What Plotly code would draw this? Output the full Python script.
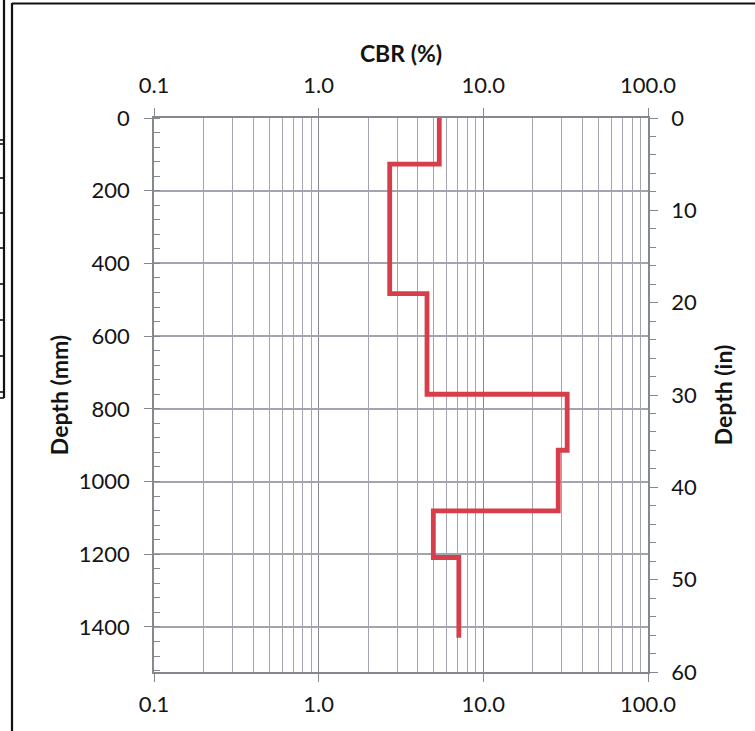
import plotly.graph_objects as go

# Layer boundaries (depth, mm) and the CBR value measured in each layer
layer_top_mm = [0, 127, 483, 760, 914, 1081, 1209]
layer_bottom_mm = [127, 483, 760, 914, 1081, 1209, 1430]
layer_cbr = [5.4, 2.7, 4.55, 32.3, 28.5, 4.97, 7.1]

# Axis tick labels
cbr_ticks = [0.1, 1, 10, 100]
cbr_ticktext = ["0.1", "1.0", "10.0", "100.0"]
depth_mm_ticks = [0, 200, 400, 600, 800, 1000, 1200, 1400]
depth_in_ticks = [0, 10, 20, 30, 40, 50, 60]

MM_PER_IN = 25.4
DEPTH_MAX_IN = 60

# Build the step profile: each layer is a vertical segment, joined by horizontal jumps
prof_x, prof_y = [], []
for top, bot, cbr in zip(layer_top_mm, layer_bottom_mm, layer_cbr):
    prof_x += [cbr, cbr]
    prof_y += [top, bot]

minor_log = [m * 10 ** e for e in (-1, 0, 1) for m in range(2, 10)]

FONT = "Lato, 'Open Sans', sans-serif"
GRID = "#a2a5ae"
GRID_MAJOR = "#85888f"
AXLINE = "#85888f"
TXT = "#141414"

fig = go.Figure()
fig.add_trace(go.Scatter(
    x=prof_x, y=prof_y, mode="lines",
    line=dict(color="#d63e4b", width=4.8),
    showlegend=False, hoverinfo="skip",
))
# Same profile in inches on the secondary axes (keeps top/right axes active)
fig.add_trace(go.Scatter(
    x=prof_x, y=[d / MM_PER_IN for d in prof_y], xaxis="x2", yaxis="y2",
    mode="lines", line=dict(color="rgba(0,0,0,0)", width=0),
    showlegend=False, hoverinfo="skip",
))

tickfont = dict(family=FONT, size=22, color=TXT)
titlefont = dict(family=FONT, size=23, color=TXT, weight="bold")

fig.update_layout(
    width=755, height=731,
    margin=dict(l=154, r=107, t=118, b=59),
    paper_bgcolor="white", plot_bgcolor="white",
    xaxis=dict(
        type="log", range=[-1, 2],
        tickvals=cbr_ticks, ticktext=cbr_ticktext,
        ticks="outside", ticklen=8, tickcolor=AXLINE, tickwidth=1.2,
        tickfont=tickfont, ticklabelstandoff=4,
        showgrid=True, gridcolor=GRID_MAJOR, gridwidth=1.4,
        minor=dict(tickmode="array", tickvals=minor_log, showgrid=True,
                   gridcolor=GRID, gridwidth=1.2, ticks=""),
        showline=True, linecolor=AXLINE, linewidth=1.6,
        zeroline=False,
    ),
    xaxis2=dict(
        type="log", range=[-1, 2], overlaying="x", side="top",
        tickvals=cbr_ticks, ticktext=cbr_ticktext,
        ticks="outside", ticklen=8, tickcolor=AXLINE, tickwidth=1.2,
        tickfont=tickfont, ticklabelstandoff=6,
        showgrid=False, showline=True, linecolor=AXLINE, linewidth=1.6,
        title=dict(text="CBR (%)", font=titlefont, standoff=2),
        zeroline=False,
    ),
    yaxis=dict(
        range=[DEPTH_MAX_IN * MM_PER_IN, 0],
        tickvals=depth_mm_ticks,
        ticks="outside", ticklen=8, tickcolor=AXLINE, tickwidth=1.2,
        tickfont=tickfont, ticklabelstandoff=10,
        showgrid=True, gridcolor=GRID, gridwidth=1.5,
        minor=dict(dtick=40, tick0=0, ticks="inside", ticklen=6,
                   tickcolor=AXLINE, tickwidth=1.2, showgrid=False),
        showline=True, linecolor=AXLINE, linewidth=1.6,
        title=dict(text="Depth (mm)", font=titlefont, standoff=4),
        zeroline=False,
    ),
    yaxis2=dict(
        range=[DEPTH_MAX_IN, 0], overlaying="y", side="right",
        tickvals=depth_in_ticks,
        ticks="outside", ticklen=8, tickcolor=AXLINE, tickwidth=1.2,
        tickfont=tickfont, ticklabelstandoff=9,
        showgrid=False,
        minor=dict(dtick=2, tick0=0, ticks="outside", ticklen=6,
                   tickcolor=AXLINE, tickwidth=1.2, showgrid=False),
        showline=True, linecolor=AXLINE, linewidth=1.6,
        title=dict(text="Depth (in)", font=titlefont, standoff=20),
        zeroline=False,
    ),
)

# Page frame around the chart and the neighbouring table edge on the left
def px_x(p):
    return (p - 154) / 494.0

def px_y(q):
    return (672 - q) / 554.0

frame = dict(color="#111111", width=2.2)
fig.add_shape(type="line", xref="paper", yref="paper",
              x0=px_x(12), x1=px_x(12), y0=px_y(3), y1=px_y(740), line=frame)
fig.add_shape(type="line", xref="paper", yref="paper",
              x0=px_x(12), x1=px_x(760), y0=px_y(3.5), y1=px_y(3.5), line=frame)
fig.add_shape(type="line", xref="paper", yref="paper",
              x0=px_x(4), x1=px_x(4), y0=px_y(-5), y1=px_y(398), line=frame)
for q in [140, 144, 178, 213, 248, 284, 320, 356, 392, 398]:
    fig.add_shape(type="line", xref="paper", yref="paper",
                  x0=px_x(-5), x1=px_x(4), y0=px_y(q), y1=px_y(q),
                  line=dict(color="#111111", width=1.6))

fig.write_html("out.html")
